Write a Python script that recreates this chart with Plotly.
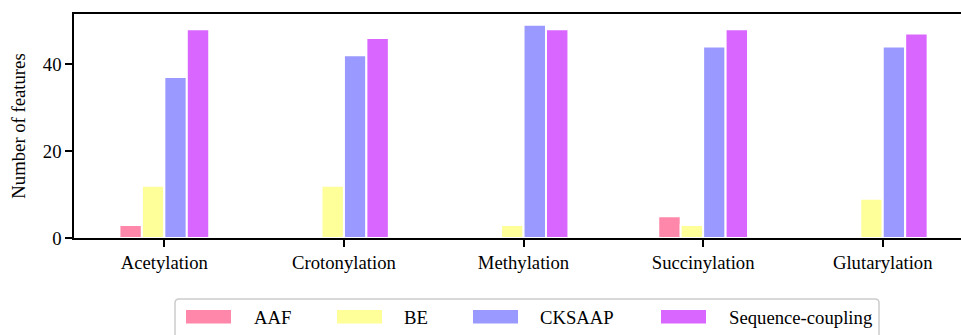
import plotly.graph_objects as go

categories = ["Acetylation", "Crotonylation", "Methylation", "Succinylation", "Glutarylation"]
series_names = ["AAF", "BE", "CKSAAP", "Sequence-coupling"]
aaf = [3, 0, 0, 5, 0]
be = [12, 12, 3, 3, 9]
cksaap = [37, 42, 49, 44, 44]
seq_coupling = [48, 46, 48, 48, 47]
series_values = [aaf, be, cksaap, seq_coupling]
colors = ["#FF88AA", "#FFFF99", "#9999FF", "#D966FF"]
y_ticks = [0, 20, 40]

W, H = 961, 335
L, R, T, B = 74, 0, 14, 97
FONT = "Liberation Serif, Times New Roman, serif"
FS = 18.7

fig = go.Figure()
for name, vals, col in zip(series_names, series_values, colors):
    fig.add_trace(go.Bar(
        x=categories, y=vals, name=name, showlegend=False,
        marker=dict(color=col, line=dict(color="white", width=2)),
    ))

pw = W - L - R
ph = H - T - B
def px2x(px):
    return (px - L) / pw
def py2y(py):
    return (H - B - py) / ph

# manual legend (matplotlib style)
shapes = []
annotations = []
bx0, bx1, by0, by1 = 175, 879, 299, 345
r = 4
shapes.append(dict(
    type="path", xref="paper", yref="paper",
    path=(f"M {px2x(bx0)},{py2y(by1)} L {px2x(bx0)},{py2y(by0 + r)} "
          f"Q {px2x(bx0)},{py2y(by0)} {px2x(bx0 + r)},{py2y(by0)} "
          f"L {px2x(bx1 - r)},{py2y(by0)} Q {px2x(bx1)},{py2y(by0)} {px2x(bx1)},{py2y(by0 + r)} "
          f"L {px2x(bx1)},{py2y(by1)}"),
    line=dict(color="#cccccc", width=1.5), fillcolor="white", layer="above"))
sw_x = [186, 337, 473, 661]
tx_x = [251.5, 401.5, 538, 726.5]
for name, col, sx, tx in zip(series_names, colors, sw_x, tx_x):
    shapes.append(dict(type="rect", xref="paper", yref="paper",
                       x0=px2x(sx), x1=px2x(sx + 45), y0=py2y(323.5), y1=py2y(310),
                       fillcolor=col, line=dict(width=0), layer="above"))
    annotations.append(dict(text=name, xref="paper", yref="paper",
                            x=px2x(tx), y=py2y(317.5), xanchor="left", yanchor="middle",
                            showarrow=False, font=dict(family=FONT, size=FS, color="black")))

fig.update_layout(
    width=W, height=H,
    margin=dict(l=L, r=R, t=T, b=B, pad=0),
    paper_bgcolor="white", plot_bgcolor="white",
    barmode="group", bargap=0.5, bargroupgap=0,
    font=dict(family=FONT, size=FS, color="black"),
    shapes=shapes, annotations=annotations,
    xaxis=dict(
        range=[-0.503, -0.503 + pw / 179.6],
        showline=True, linecolor="black", linewidth=1.5, mirror=True,
        ticks="outside", ticklen=7, tickwidth=1.5, tickcolor="black",
        showgrid=False, zeroline=False,
        tickfont=dict(family=FONT, size=FS),
    ),
    yaxis=dict(
        range=[0, 51.5],
        tickvals=y_ticks,
        showline=True, linecolor="black", linewidth=1.5,
        ticks="outside", ticklen=7, tickwidth=1.5, tickcolor="black",
        showgrid=False, zeroline=False,
        tickfont=dict(family=FONT, size=FS),
        title=dict(text="Number of features", font=dict(family=FONT, size=FS), standoff=12),
    ),
)

fig.write_html("out.html",
               config={"displayModeBar": False},
               post_script="document.body.style.margin='0';document.body.style.overflow='hidden';")
